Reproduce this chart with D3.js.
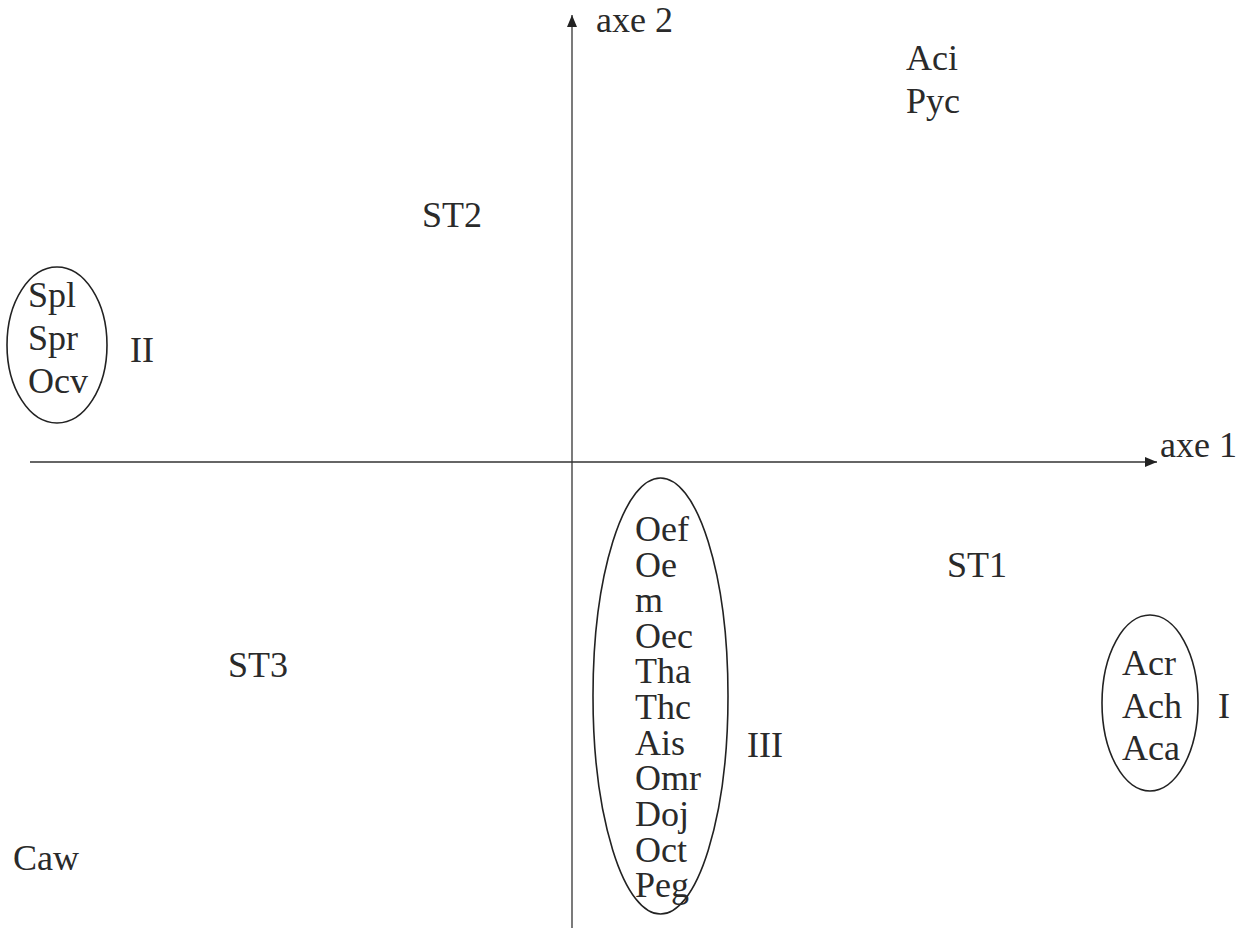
<!DOCTYPE html>
<html>
<head>
<meta charset="utf-8">
<script src="https://cdn.jsdelivr.net/npm/d3@7"></script>
<style>
  html, body { margin: 0; padding: 0; background: #fff; }
  svg { display: block; }
</style>
</head>
<body>
<svg id="chart" width="1249" height="929"></svg>
<script>
// Species scores on the first two factorial axes (label anchor: left edge, baseline)
const species = ["Aci", "Pyc", "Spl", "Spr", "Ocv",
  "Oef", "Oe", "m", "Oec", "Tha", "Thc", "Ais", "Omr", "Doj", "Oct", "Peg",
  "Acr", "Ach", "Aca", "Caw"];
const speciesX = [3.34, 3.34, -5.44, -5.44, -5.44,
  0.63, 0.63, 0.63, 0.63, 0.63, 0.63, 0.63, 0.63, 0.63, 0.63, 0.63,
  5.50, 5.50, 5.50, -5.59];
const speciesY = [3.92, 3.49, 1.55, 1.12, 0.69,
  -0.79, -1.15, -1.50, -1.86, -2.21, -2.57, -2.93, -3.28, -3.64, -4.00, -4.35,
  -2.13, -2.56, -2.98, -4.08];

// Stations
const stations = ["ST1", "ST2", "ST3"];
const stationX = [3.75, -1.50, -3.44];
const stationY = [-1.15, 2.35, -2.15];

// Species groups: enclosing ellipse (centre, radii) and group label
const groups = ["I", "II", "III"];
const groupCX = [5.78, -5.15, 0.885];
const groupCY = [-2.41, 1.17, -2.34];
const groupRX = [0.48, 0.50, 0.675];
const groupRY = [0.88, 0.78, 2.18];
const groupLabelX = [6.46, -4.42, 1.75];
const groupLabelY = [-2.56, 1.00, -2.95];

// Axis names
const axisNames = ["axe 1", "axe 2"];

const svg = d3.select("#chart");
const W = 1249, H = 929;
const FONT = "Liberation Serif, Times New Roman, serif";
const INK = "#2a2a2a";

const x = d3.scaleLinear().domain([-5.42, 5.85]).range([30, 1157]);
const y = d3.scaleLinear().domain([-4.66, 4.47]).range([928, 15]);

svg.append("rect").attr("width", W).attr("height", H).attr("fill", "#fff");

// Arrowhead marker
svg.append("defs").append("marker")
  .attr("id", "arrow")
  .attr("viewBox", "0 0 12 10")
  .attr("refX", 12).attr("refY", 5)
  .attr("markerWidth", 12).attr("markerHeight", 10)
  .attr("markerUnits", "userSpaceOnUse")
  .attr("orient", "auto")
  .append("path")
  .attr("d", "M0,0 L12,5 L0,10 Z")
  .attr("fill", "#222");

const axes = svg.append("g").attr("stroke", "#333").attr("stroke-width", 1.3);
// axis 1 (horizontal)
axes.append("line")
  .attr("x1", x(-5.42)).attr("x2", x(5.85))
  .attr("y1", y(0)).attr("y2", y(0))
  .attr("marker-end", "url(#arrow)");
// axis 2 (vertical)
axes.append("line")
  .attr("x1", x(0)).attr("x2", x(0))
  .attr("y1", y(-4.66)).attr("y2", y(4.47))
  .attr("marker-end", "url(#arrow)");

const fs = 36;

function label(sel) {
  return sel.attr("font-family", FONT).attr("font-size", fs).attr("fill", INK);
}

svg.append("text")
  .attr("x", x(5.88)).attr("y", y(0.05))
  .call(label).text(axisNames[0]);
svg.append("text")
  .attr("x", x(0.24)).attr("y", y(4.30))
  .call(label).text(axisNames[1]);

// Group ellipses
svg.append("g").selectAll("ellipse")
  .data(groups)
  .join("ellipse")
  .attr("cx", (d, i) => x(groupCX[i]))
  .attr("cy", (d, i) => y(groupCY[i]))
  .attr("rx", (d, i) => x(groupRX[i]) - x(0))
  .attr("ry", (d, i) => y(0) - y(groupRY[i]))
  .attr("fill", "none")
  .attr("stroke", "#222")
  .attr("stroke-width", 1.6);

// Group labels
svg.append("g").selectAll("text")
  .data(groups)
  .join("text")
  .attr("x", (d, i) => x(groupLabelX[i]))
  .attr("y", (d, i) => y(groupLabelY[i]))
  .call(label)
  .text(d => d);

// Species labels
svg.append("g").selectAll("text")
  .data(species)
  .join("text")
  .attr("x", (d, i) => x(speciesX[i]))
  .attr("y", (d, i) => y(speciesY[i]))
  .call(label)
  .text(d => d);

// Station labels
svg.append("g").selectAll("text")
  .data(stations)
  .join("text")
  .attr("x", (d, i) => x(stationX[i]))
  .attr("y", (d, i) => y(stationY[i]))
  .call(label)
  .text(d => d);
</script>
</body>
</html>
